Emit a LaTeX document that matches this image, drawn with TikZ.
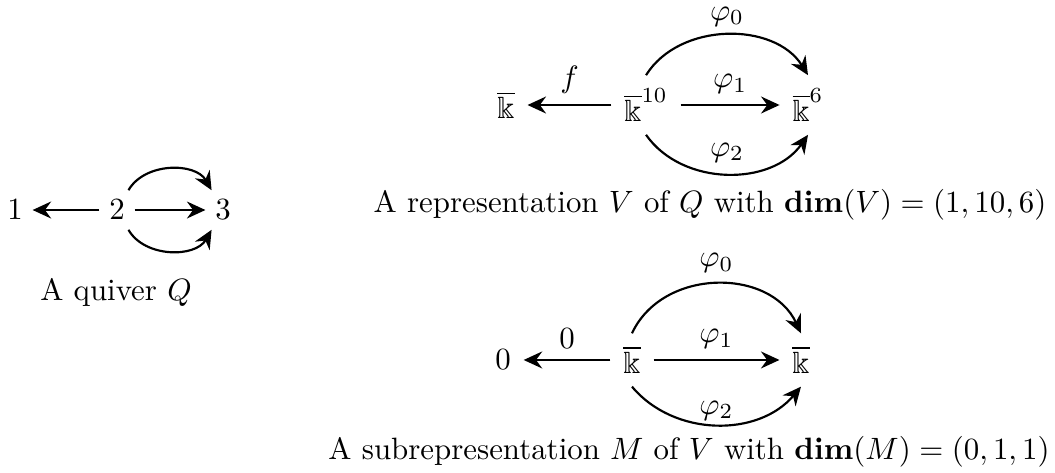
\documentclass[tikz,border=0pt]{standalone}
\usepackage{amsmath}
\usepackage{amssymb}
\usepackage{tikz}
\usetikzlibrary{arrows.meta, positioning}
\tikzstyle{vertex} = [inner sep=3pt]
\tikzstyle{space} = [inner sep=4pt]
\tikzstyle{caption} = [inner sep=0pt]
\tikzstyle{arrow} = [line width=0.7pt,->,>={Stealth[length=6pt,width=5.5pt,inset=2pt]}]

\begin{document}
\begin{tikzpicture}
    \useasboundingbox (0,0) rectangle (12.016,-5.387);
    % Quiver
    \node (n2) [vertex] at (1.333,-2.392) {$2$};
    \node (n1) [vertex, left of=n2, node distance=1.162cm] {$1$};
    \node (n3) [vertex, right of=n2, node distance=1.207cm] {$3$};
    \node (capQ) [caption] at (1.321,-3.326) {A quiver $Q$};

    % Representation V
    \node (kA) [space] at (5.763,-1.196) {$\overline{\Bbbk}$};
    \node (kB) [space, right of=kA, node distance=1.595cm] {$\overline{\Bbbk}^{10}$};
    \node (kC) [space, right of=kB, node distance=1.845cm] {$\overline{\Bbbk}^{6}$};
    \node (capV) [caption] at (8.087,-2.335) {A representation $V$ of $Q$ with $\mathbf{dim}(V)=(1,10,6)$};

    % Subrepresentation M
    \node (z0) [space] at (5.729,-4.100) {$0$};
    \node (kD) [space, right of=z0, node distance=1.469cm] {$\overline{\Bbbk}$};
    \node (kE) [space, right of=kD, node distance=1.925cm] {$\overline{\Bbbk}$};
    \node (capM) [caption] at (7.848,-5.148) {A subrepresentation $M$ of $V$ with $\mathbf{dim}(M)=(0,1,1)$};

    % Arrows
    \draw [arrow] (n2) -- (n1);
    \draw [arrow] (n2) -- (n3);
    \draw [arrow] (n2) to[bend left=60] (n3);
    \draw [arrow] (n2) to[bend right=60] (n3);

    \draw [arrow] (kB) -- node[above] {$f$} (kA);
    \draw [arrow] (kB) -- node[above] {$\varphi_1$} (kC);
    \draw [arrow] (kB.north) to[bend left=58] node[above, inner sep=2.5pt] {$\varphi_0$} (kC.north);
    \draw [arrow] (kB.south) to[bend right=55] node[above] {$\varphi_2$} (kC.south);

    \draw [arrow] (kD) -- node[above] {$0$} (z0);
    \draw [arrow] (kD) -- node[above] {$\varphi_1$} (kE);
    \draw [arrow] (kD.north) to[bend left=65, looseness=1.1] node[above] {$\varphi_0$} (kE.north);
    \draw [arrow] (kD.south) to[bend right=50] node[above, inner sep=1pt] {$\varphi_2$} (kE.south);
\end{tikzpicture}
\end{document}
